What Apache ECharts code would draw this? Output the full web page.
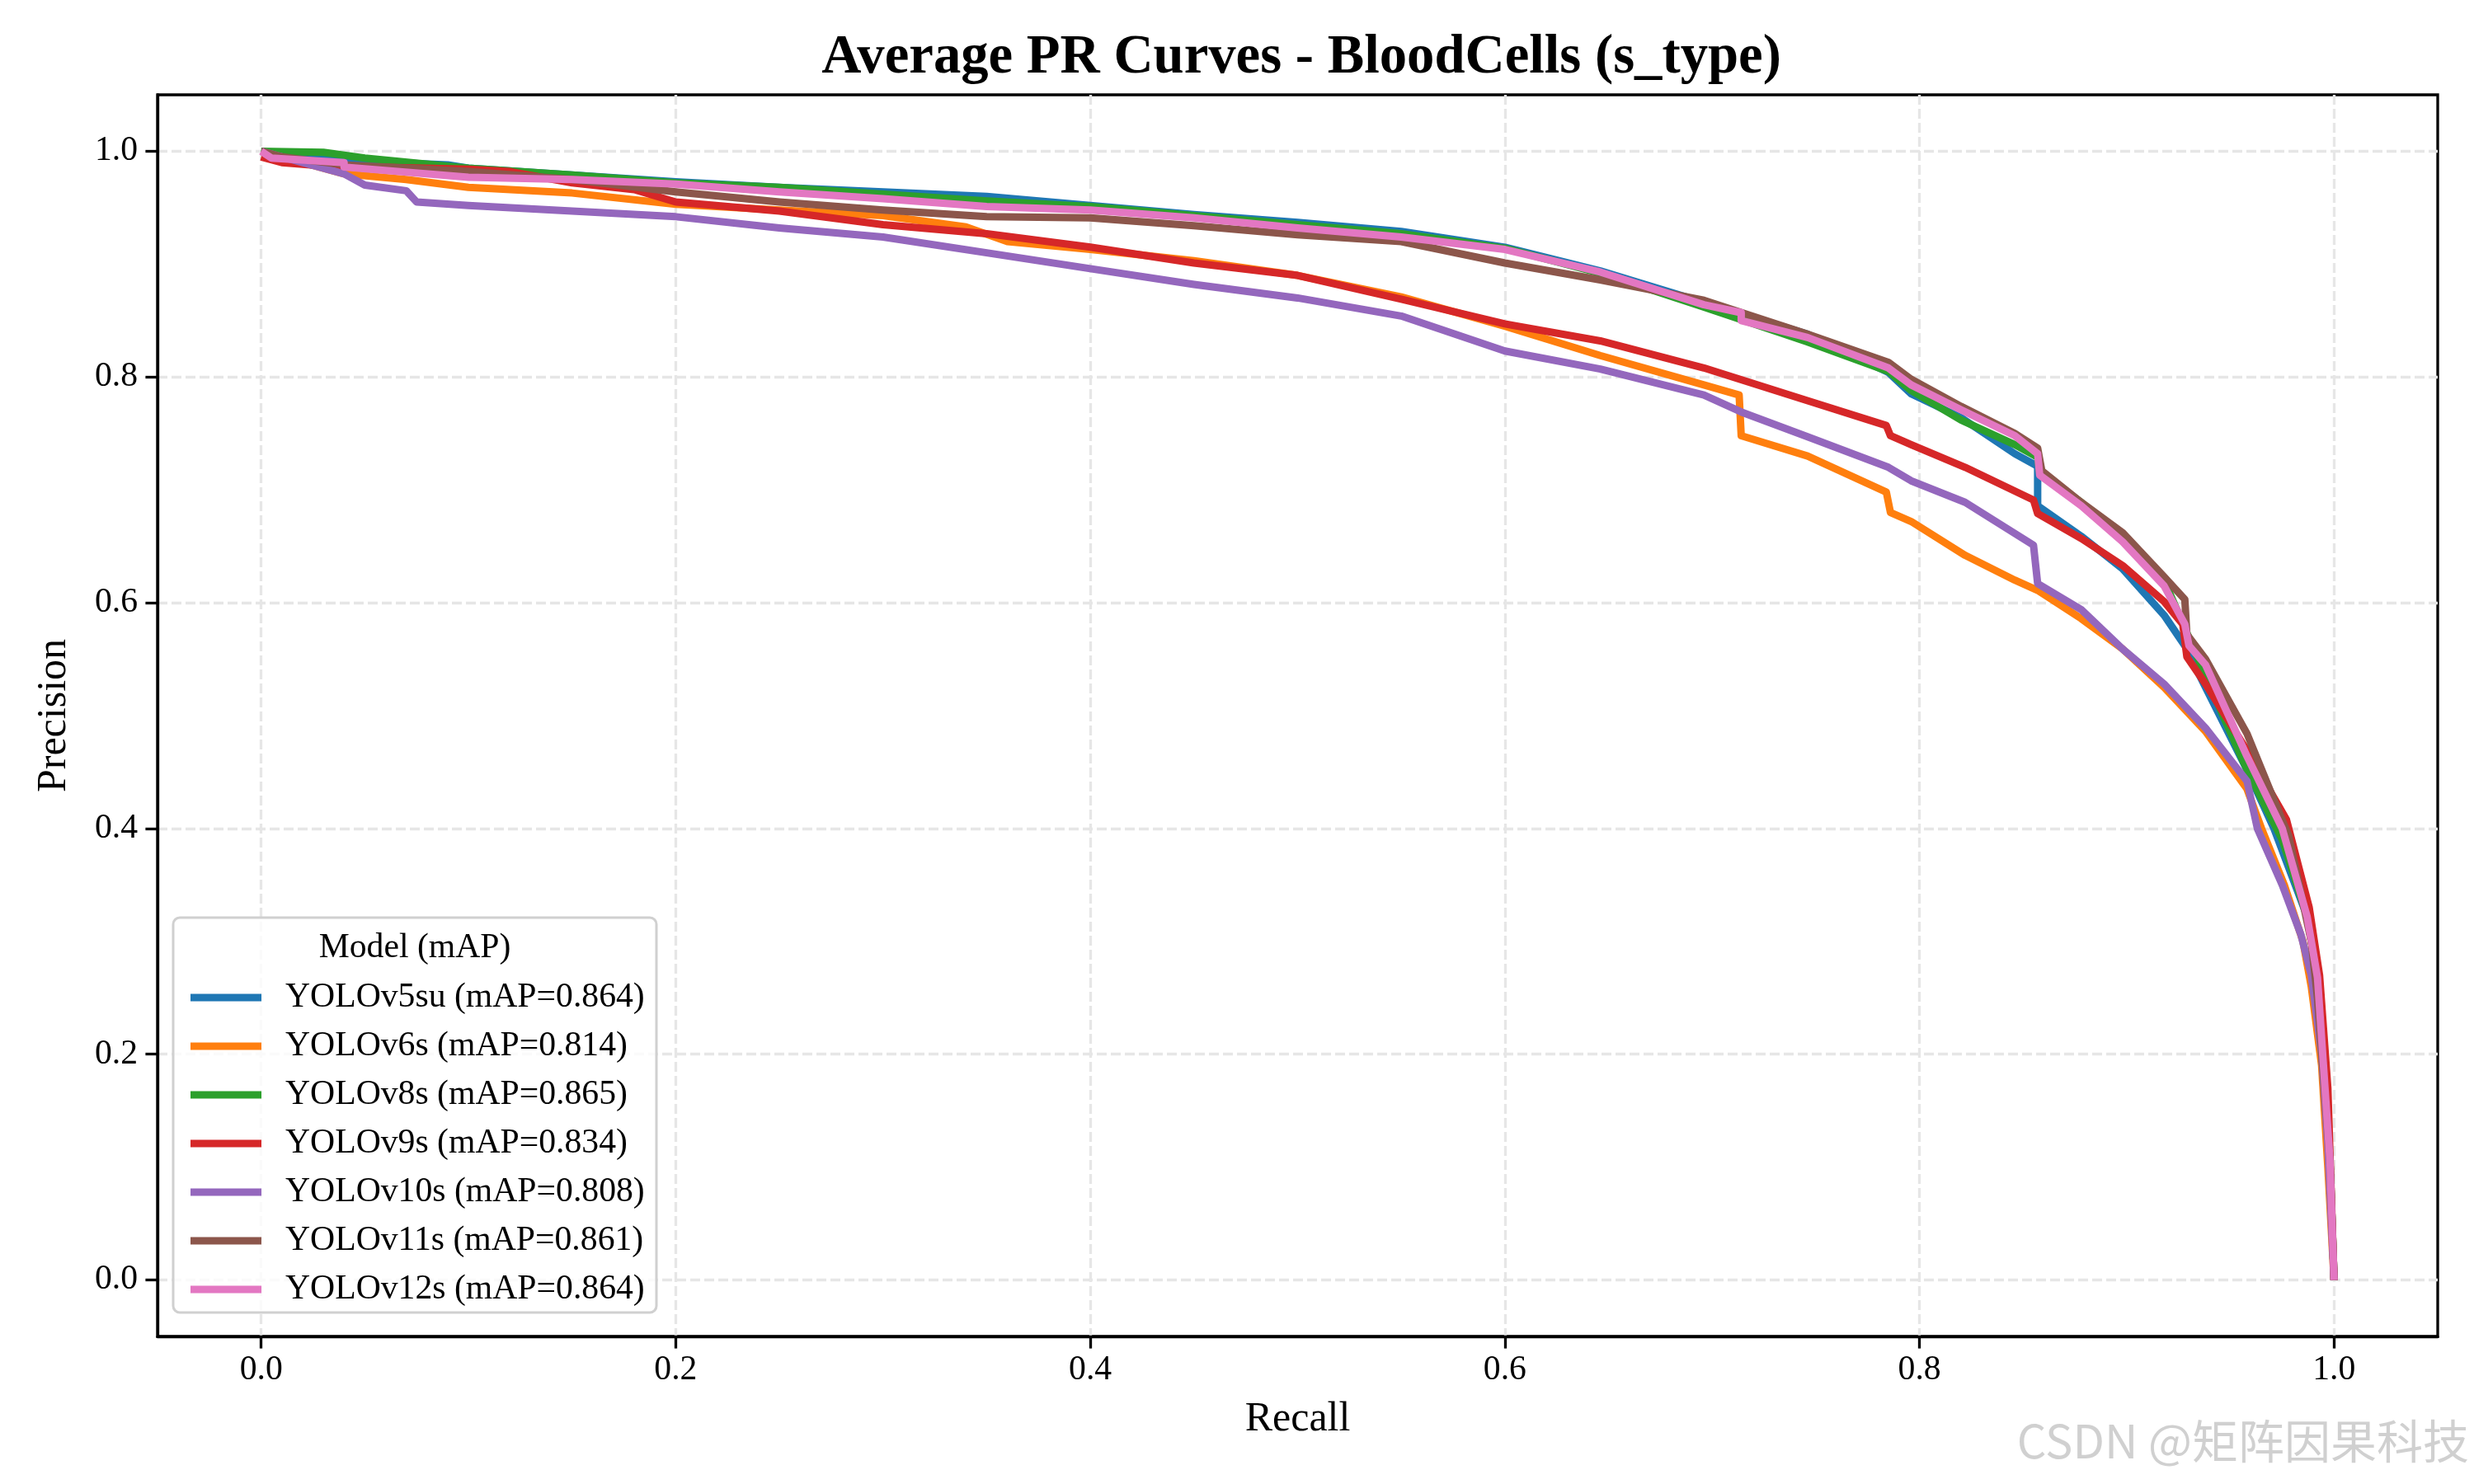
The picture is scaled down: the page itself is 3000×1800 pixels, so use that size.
<!DOCTYPE html>
<html>
<head>
<meta charset="utf-8">
<script src="https://cdn.jsdelivr.net/npm/echarts@6/dist/echarts.min.js"></script>
<style>html,body{margin:0;padding:0;background:#fff}#c{width:3000px;height:1800px}</style>
</head>
<body>
<div id="c"></div>
<script>
// ---- data: [recall, precision] ----
const modelNames = ['YOLOv5su (mAP=0.864)','YOLOv6s (mAP=0.814)','YOLOv8s (mAP=0.865)','YOLOv9s (mAP=0.834)','YOLOv10s (mAP=0.808)','YOLOv11s (mAP=0.861)','YOLOv12s (mAP=0.864)'];
const tickValues = [0, 0.2, 0.4, 0.6, 0.8, 1.0];

const prV5su = [[0,1.0],[0.01,0.997],[0.05,0.991],[0.09,0.988],[0.1,0.985],[0.15,0.979],[0.2,0.973],[0.25,0.968],[0.3,0.964],[0.35,0.960],[0.4,0.952],[0.45,0.944],[0.5,0.937],[0.55,0.929],[0.6,0.915],[0.646,0.894],[0.696,0.866],[0.746,0.838],[0.785,0.804],[0.796,0.785],[0.82,0.764],[0.846,0.732],[0.857,0.721],[0.857,0.686],[0.878,0.659],[0.898,0.630],[0.918,0.589],[0.928,0.562],[0.938,0.525],[0.958,0.452],[0.971,0.40],[0.987,0.322],[0.992,0.268],[0.995,0.187],[0.998,0.106],[1.0,0.0]];
const prV6s = [[0,1.0],[0.02,0.99],[0.04,0.98],[0.07,0.975],[0.1,0.968],[0.15,0.963],[0.2,0.953],[0.25,0.948],[0.3,0.943],[0.34,0.933],[0.36,0.920],[0.4,0.913],[0.45,0.903],[0.5,0.890],[0.55,0.871],[0.6,0.845],[0.646,0.819],[0.696,0.793],[0.713,0.784],[0.714,0.748],[0.746,0.730],[0.784,0.698],[0.786,0.680],[0.796,0.672],[0.822,0.642],[0.846,0.620],[0.857,0.611],[0.878,0.586],[0.898,0.559],[0.918,0.525],[0.938,0.486],[0.958,0.435],[0.965,0.40],[0.976,0.35],[0.985,0.30],[0.989,0.26],[0.994,0.19],[0.997,0.10],[1.0,0.0]];
const prV8s = [[0,1.0],[0.03,0.999],[0.05,0.994],[0.1,0.985],[0.15,0.979],[0.2,0.972],[0.25,0.968],[0.3,0.962],[0.35,0.956],[0.4,0.951],[0.45,0.943],[0.5,0.935],[0.55,0.927],[0.6,0.914],[0.646,0.892],[0.696,0.862],[0.746,0.831],[0.785,0.805],[0.796,0.788],[0.82,0.762],[0.846,0.740],[0.857,0.729],[0.858,0.715],[0.878,0.689],[0.918,0.62],[0.938,0.535],[0.958,0.452],[0.975,0.39],[0.987,0.322],[0.992,0.268],[0.995,0.187],[0.998,0.106],[1.0,0.0]];
const prV9s = [[0,0.995],[0.01,0.99],[0.03,0.987],[0.1,0.984],[0.12,0.982],[0.15,0.972],[0.18,0.966],[0.2,0.955],[0.25,0.947],[0.3,0.935],[0.35,0.927],[0.4,0.915],[0.45,0.901],[0.5,0.890],[0.55,0.869],[0.6,0.847],[0.646,0.832],[0.696,0.808],[0.746,0.779],[0.784,0.757],[0.786,0.748],[0.796,0.740],[0.822,0.720],[0.855,0.691],[0.857,0.679],[0.878,0.657],[0.898,0.633],[0.918,0.601],[0.927,0.581],[0.929,0.552],[0.938,0.528],[0.958,0.469],[0.977,0.408],[0.988,0.33],[0.993,0.27],[0.997,0.17],[1.0,0.0]];
const prV10s = [[0,1.0],[0.02,0.99],[0.04,0.98],[0.05,0.97],[0.07,0.965],[0.075,0.955],[0.1,0.952],[0.15,0.947],[0.2,0.942],[0.25,0.932],[0.3,0.924],[0.35,0.910],[0.4,0.896],[0.45,0.882],[0.5,0.870],[0.55,0.854],[0.6,0.823],[0.646,0.807],[0.696,0.784],[0.714,0.769],[0.746,0.747],[0.785,0.720],[0.796,0.708],[0.822,0.689],[0.855,0.651],[0.857,0.617],[0.878,0.594],[0.898,0.559],[0.918,0.528],[0.938,0.489],[0.958,0.442],[0.963,0.40],[0.975,0.35],[0.984,0.306],[0.989,0.27],[0.994,0.20],[0.997,0.12],[1.0,0.0]];
const prV11s = [[0,1.0],[0.01,0.995],[0.04,0.988],[0.1,0.982],[0.15,0.975],[0.2,0.964],[0.25,0.955],[0.3,0.948],[0.35,0.942],[0.4,0.941],[0.45,0.934],[0.5,0.926],[0.55,0.920],[0.6,0.901],[0.646,0.886],[0.696,0.868],[0.746,0.838],[0.785,0.813],[0.796,0.798],[0.82,0.774],[0.846,0.750],[0.857,0.737],[0.859,0.717],[0.878,0.689],[0.898,0.662],[0.918,0.623],[0.928,0.603],[0.929,0.572],[0.938,0.550],[0.958,0.484],[0.978,0.394],[0.989,0.30],[0.992,0.25],[0.998,0.106],[1.0,0.0]];
const prV12s = [[0,1.0],[0.005,0.994],[0.04,0.99],[0.04,0.986],[0.1,0.977],[0.15,0.975],[0.2,0.971],[0.25,0.964],[0.3,0.958],[0.35,0.951],[0.4,0.948],[0.45,0.941],[0.5,0.932],[0.55,0.924],[0.6,0.913],[0.646,0.893],[0.696,0.864],[0.714,0.857],[0.714,0.850],[0.746,0.835],[0.785,0.808],[0.796,0.793],[0.82,0.771],[0.846,0.748],[0.857,0.732],[0.858,0.713],[0.878,0.686],[0.898,0.654],[0.918,0.615],[0.928,0.581],[0.93,0.562],[0.938,0.545],[0.958,0.464],[0.975,0.40],[0.987,0.322],[0.992,0.268],[0.995,0.187],[0.998,0.106],[1.0,0.0]];

const seriesData = [prV5su, prV6s, prV8s, prV9s, prV10s, prV11s, prV12s];
const colors = ['#1f77b4','#ff7f0e','#2ca02c','#d62728','#9467bd','#8c564b','#e377c2'];

const FONT = '"Liberation Serif","Times New Roman",serif';
const chart = echarts.init(document.getElementById('c'), null, {renderer:'canvas'});

const axisCommon = {
  type: 'value', min: -0.05, max: 1.05,
  axisLine: {show: true, onZero: false, lineStyle: {color: '#000', width: 3.3}},
  axisTick: {show: true, customValues: tickValues, length: 14.6, inside: false, lineStyle: {color: '#000', width: 3.3}},
  axisLabel: {customValues: tickValues, formatter: v => v.toFixed(1), fontFamily: FONT, fontSize: 41.7, color: '#000'},
  splitLine: {show: true, lineStyle: {type: [12, 5], color: '#e6e6e6', width: 3.3}},
  nameLocation: 'middle',
  nameTextStyle: {fontFamily: FONT, fontSize: 50, color: '#000'}
};

const option = {
  animation: false,
  backgroundColor: '#fff',
  color: colors,
  title: {
    text: 'Average PR Curves - BloodCells (s_type)',
    left: 1573, top: 32, textAlign: 'center',
    textStyle: {fontFamily: FONT, fontSize: 66.7, fontWeight: 'bold', color: '#000'}
  },
  grid: {left: 191, right: 44, top: 115, bottom: 179, show: true, borderColor: '#000', borderWidth: 3.3, backgroundColor: 'transparent'},
  xAxis: Object.assign({}, axisCommon, {name: 'Recall', nameGap: 76,
    axisLabel: Object.assign({}, axisCommon.axisLabel, {margin: 20})}),
  yAxis: Object.assign({}, axisCommon, {name: 'Precision', nameGap: 100,
    axisLabel: Object.assign({}, axisCommon.axisLabel, {margin: 24})}),
  legend: {
    orient: 'vertical', left: 226, top: 1184,
    itemWidth: 86, itemHeight: 9, itemGap: 17, icon: 'rect',
    data: modelNames,
    textStyle: {fontFamily: FONT, fontSize: 41.7, color: '#000', lineHeight: 42, padding: [0, 0, 0, 24]},
    z: 20
  },
  graphic: [
    {type: 'rect', z: 10, shape: {x: 210, y: 1113, width: 586, height: 479, r: 8},
     style: {fill: 'rgba(255,255,255,0.8)', stroke: '#d0d0d0', lineWidth: 3}},
    {type: 'text', z: 11, style: {x: 503, y: 1150, text: 'Model (mAP)', textAlign: 'center', textVerticalAlign: 'middle',
      font: '41.7px ' + FONT, fill: '#000'}},
    {type: 'text', z: 11, style: {x: 2994, y: 1748, text: 'CSDN @矩阵因果科技', textAlign: 'right', textVerticalAlign: 'middle',
      font: '56px "Noto Sans CJK SC","Noto Sans",sans-serif', fill: 'rgba(170,170,170,0.55)'}}
  ],
  series: seriesData.map((d, i) => ({
    name: modelNames[i], type: 'line', data: d, showSymbol: false, symbol: 'none',
    lineStyle: {width: 9, color: colors[i], join: 'round'}, itemStyle: {color: colors[i]},
    emphasis: {disabled: true}
  }))
};
chart.setOption(option);
</script>
</body>
</html>
